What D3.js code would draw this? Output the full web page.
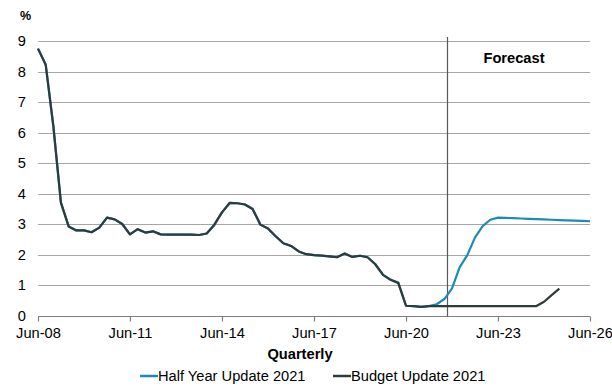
<!DOCTYPE html>
<html>
<head>
<meta charset="utf-8">
<script src="https://cdn.jsdelivr.net/npm/d3@7"></script>
<style>
  html, body { margin: 0; padding: 0; background: #fff; }
  svg { display: block; font-family: Arial, "Liberation Sans", sans-serif; }
</style>
</head>
<body>
<svg id="chart" width="612" height="387"></svg>
<script>
// 90-day rate, quarterly, from Jun-08 (values in %)
const startQuarter = new Date(2008, 5, 1);

// Actuals shared by both forecasts (Jun-08 to Mar-21)
const history = [
  8.75, 8.22, 6.20, 3.70, 2.92, 2.79, 2.79, 2.73, 2.88, 3.21, 3.15, 3.00,
  2.66, 2.83, 2.72, 2.76, 2.66, 2.65, 2.65, 2.65, 2.65, 2.64, 2.69, 2.97,
  3.38, 3.69, 3.68, 3.64, 3.49, 2.98, 2.85, 2.60, 2.37, 2.28, 2.10, 2.01,
  1.98, 1.96, 1.94, 1.91, 2.03, 1.92, 1.96, 1.91, 1.68, 1.33, 1.17, 1.07,
  0.32, 0.31, 0.28, 0.31
];

// Half Year Update 2021: Jun-21 to Jun-26
const halfYearForecast = [
  0.37, 0.54, 0.89, 1.58, 1.98, 2.56, 2.93, 3.14, 3.21, 3.20, 3.19, 3.18,
  3.17, 3.16, 3.15, 3.14, 3.13, 3.12, 3.11, 3.10, 3.09
];

// Budget Update 2021: Jun-21 to Jun-25
const budgetForecast = [
  0.31, 0.31, 0.31, 0.31, 0.31, 0.31, 0.31, 0.31, 0.31, 0.31, 0.31, 0.31,
  0.31, 0.31, 0.45, 0.67, 0.88
];

const seriesNames = ["Half Year Update 2021", "Budget Update 2021"];
const seriesColors = ["#1b8db5", "#2f3b3b"];

const yTicks = [0, 1, 2, 3, 4, 5, 6, 7, 8, 9];
const xTickLabels = ["Jun-08", "Jun-11", "Jun-14", "Jun-17", "Jun-20", "Jun-23", "Jun-26"];
const forecastStart = new Date(2021, 9, 1);

const quarterDate = i => d3.timeMonth.offset(startQuarter, 3 * i);
const toPoints = values => values.map((v, i) => ({ date: quarterDate(i), value: v }));

const halfYear = toPoints(history.concat(halfYearForecast));
const budget = toPoints(history.concat(budgetForecast));

const svg = d3.select("#chart");
const plotLeft = 38, plotRight = 590, plotTop = 41, plotBottom = 315.5;
const fontSize = 14.67;

const x = d3.scaleTime()
  .domain([startQuarter, new Date(2026, 5, 1)])
  .range([plotLeft, plotRight]);
const y = d3.scaleLinear().domain([0, 9]).range([plotBottom, plotTop]);

// Horizontal gridlines
svg.append("g")
  .selectAll("line")
  .data(yTicks.filter(d => d > 0))
  .join("line")
  .attr("x1", plotLeft).attr("x2", plotRight)
  .attr("y1", d => Math.round(y(d)) + 0.5)
  .attr("y2", d => Math.round(y(d)) + 0.5)
  .attr("stroke", "#a6a6a6")
  .attr("stroke-width", 1.2);

// Y tick labels
svg.append("g")
  .selectAll("text")
  .data(yTicks)
  .join("text")
  .attr("x", 26)
  .attr("y", d => y(d))
  .attr("dy", "0.36em")
  .attr("text-anchor", "end")
  .attr("font-size", fontSize)
  .attr("fill", "#000")
  .text(d => d);

svg.append("text")
  .attr("x", 25.5).attr("y", 20)
  .attr("text-anchor", "middle")
  .attr("font-size", 12.5)
  .attr("font-weight", "bold")
  .text("%");

// X axis
const xTickDates = xTickLabels.map((_, i) => d3.timeYear.offset(startQuarter, 3 * i));
const xAxis = d3.axisBottom(x)
  .tickValues(xTickDates)
  .tickFormat((d, i) => xTickLabels[i])
  .tickSize(5)
  .tickPadding(6.5);

const axisG = svg.append("g")
  .attr("transform", `translate(0,${Math.round(plotBottom) + 0.5})`)
  .call(xAxis);
axisG.select(".domain").attr("stroke", "#7f7f7f").attr("stroke-width", 1.2)
  .attr("d", `M${plotLeft},0H${plotRight}`);
axisG.selectAll(".tick line").attr("stroke", "#7f7f7f").attr("stroke-width", 1.2);
axisG.selectAll(".tick text")
  .attr("font-size", fontSize)
  .attr("font-family", "Arial, 'Liberation Sans', sans-serif")
  .attr("fill", "#000");

svg.append("text")
  .attr("x", 300).attr("y", 359)
  .attr("text-anchor", "middle")
  .attr("font-size", fontSize)
  .attr("font-weight", "bold")
  .text("Quarterly");

// Forecast divider
svg.append("line")
  .attr("x1", Math.round(x(forecastStart)) + 0.5)
  .attr("x2", Math.round(x(forecastStart)) + 0.5)
  .attr("y1", 37).attr("y2", Math.round(plotBottom) + 0.5)
  .attr("stroke", "#595959")
  .attr("stroke-width", 1.2);

svg.append("text")
  .attr("x", 514).attr("y", 63)
  .attr("text-anchor", "middle")
  .attr("font-size", fontSize)
  .attr("font-weight", "bold")
  .text("Forecast");

// Lines
const line = d3.line()
  .x(d => x(d.date))
  .y(d => y(d.value));

svg.append("path")
  .datum(halfYear)
  .attr("fill", "none")
  .attr("stroke", seriesColors[0])
  .attr("stroke-width", 2.2)
  .attr("stroke-linejoin", "round")
  .attr("d", line);

svg.append("path")
  .datum(budget)
  .attr("fill", "none")
  .attr("stroke", seriesColors[1])
  .attr("stroke-width", 2.2)
  .attr("stroke-linejoin", "round")
  .attr("d", line);

// Legend
const legendItems = [
  { name: seriesNames[0], color: seriesColors[0], x: 140 },
  { name: seriesNames[1], color: seriesColors[1], x: 333 }
];
const lg = svg.append("g")
  .selectAll("g")
  .data(legendItems)
  .join("g")
  .attr("transform", d => `translate(${d.x},376)`);
lg.append("line")
  .attr("x1", 0).attr("x2", 18)
  .attr("stroke", d => d.color)
  .attr("stroke-width", 2.5);
lg.append("text")
  .attr("x", 18).attr("y", 5)
  .attr("font-size", fontSize)
  .text(d => d.name);
</script>
</body>
</html>
